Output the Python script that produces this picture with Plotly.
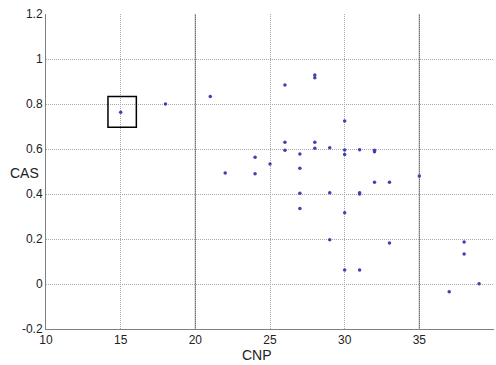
import plotly.graph_objects as go

# Data (CNP vs CAS)
cnp = [15, 18, 21, 22, 24, 24, 25, 26, 26, 26, 27, 27, 27, 27, 28, 28, 28, 28,
       29, 29, 29, 30, 30, 30, 30, 30, 31, 31, 31, 31, 32, 32, 32, 33, 33, 35,
       37, 38, 38, 39]
cas = [0.763, 0.80, 0.833, 0.493, 0.563, 0.49, 0.533, 0.884, 0.63, 0.594,
       0.578, 0.514, 0.403, 0.336, 0.929, 0.917, 0.63, 0.603,
       0.606, 0.406, 0.197, 0.724, 0.596, 0.576, 0.317, 0.062,
       0.597, 0.406, 0.40, 0.062, 0.594, 0.588, 0.452, 0.452, 0.182, 0.48,
       -0.034, 0.187, 0.133, 0.001]

x_ticks = [10, 15, 20, 25, 30, 35, 40]
x_ticktext = ["10", "15", "20", "25", "30", "35", "40"]
y_ticks = [-0.2, 0, 0.2, 0.4, 0.6, 0.8, 1.0, 1.2]
y_ticktext = ["-0.2", "0", "0.2", "0.4", "0.6", "0.8", "1", "1.2"]

# highlighted region (box around the point at CNP=15)
box_x = [14.15, 16.05]
box_y = [0.697, 0.833]
solid_x = [20, 35]

fig = go.Figure()
fig.add_trace(go.Scatter(
    x=cnp, y=cas, mode="markers",
    marker=dict(size=3.5, color="#4040b4"),
    hoverinfo="x+y", showlegend=False))

for sx in solid_x:
    fig.add_shape(type="line", x0=sx, x1=sx, y0=-0.2, y1=1.2,
                  xref="x", yref="y", line=dict(color="#5a5a5a", width=1),
                  layer="below")

fig.add_shape(type="rect", x0=box_x[0], x1=box_x[1], y0=box_y[0], y1=box_y[1],
              xref="x", yref="y", line=dict(color="black", width=1.5))

font = "Liberation Sans, Arial, sans-serif"
grid_dash = "1px,1px"
fig.update_layout(
    width=496, height=365,
    margin=dict(l=46, r=2, t=14, b=36),
    paper_bgcolor="white", plot_bgcolor="white",
    font=dict(family=font, size=12, color="#222"),
    xaxis=dict(range=[10, 40], tickvals=x_ticks, ticktext=x_ticktext,
               showgrid=True, gridcolor="#a8a8a8", griddash=grid_dash, gridwidth=1,
               showline=True, linecolor="#808080", linewidth=1,
               zeroline=False, ticks="", mirror=False),
    yaxis=dict(range=[-0.2, 1.2], tickvals=y_ticks, ticktext=y_ticktext,
               showgrid=True, gridcolor="#a8a8a8", griddash=grid_dash, gridwidth=1,
               showline=True, linecolor="#808080", linewidth=1,
               zeroline=False, ticks="", ticklabelstandoff=0),
    annotations=[
        dict(text="CAS", x=24, y=173, xref="paper", yref="paper",
             showarrow=False, font=dict(size=14, family=font, color="#222")),
        dict(text="CNP", x=257, y=355, xref="paper", yref="paper",
             showarrow=False, font=dict(size=14, family=font, color="#222")),
    ],
)

# convert annotation pixel positions into paper fractions
W, H = 496, 365
l, r, t, b = 46, 2, 14, 36
pw, ph = W - l - r, H - t - b
new_ann = []
for a in fig.layout.annotations:
    px, py = a.x, a.y
    a.x = (px - l) / pw
    a.y = 1 - (py - t) / ph
    a.xanchor = "center"
    a.yanchor = "middle"
    new_ann.append(a)
fig.layout.annotations = new_ann

fig.write_html("out.html")
